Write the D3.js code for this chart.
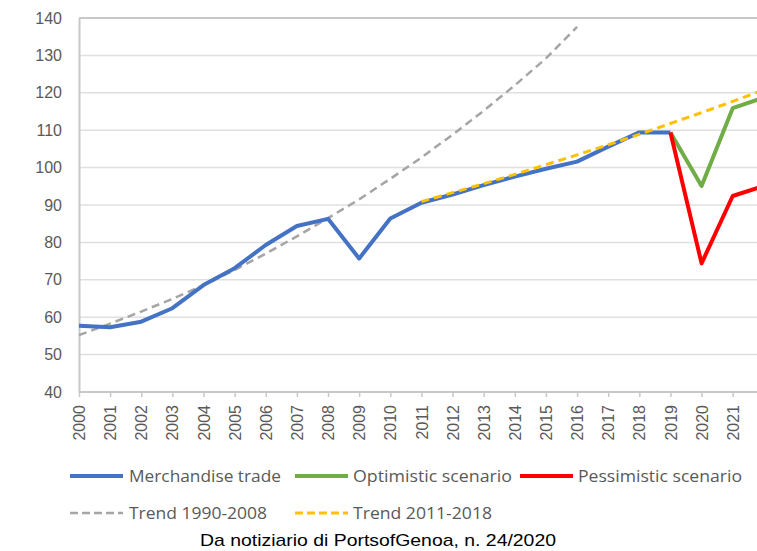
<!DOCTYPE html>
<html>
<head>
<meta charset="utf-8">
<script src="https://cdn.jsdelivr.net/npm/d3@7"></script>
<style>
  html, body { margin: 0; padding: 0; background: #fff; }
  svg { display: block; }
</style>
</head>
<body>
<svg id="chart" width="757" height="551"></svg>
<script>
// ---- Data ----
const merchYears = [2000,2001,2002,2003,2004,2005,2006,2007,2008,2009,2010,2011,2012,2013,2014,2015,2016,2017,2018,2019];
const merchandise = [57.7,57.3,58.8,62.4,68.6,73.1,79.3,84.4,86.3,75.7,86.4,90.6,92.8,95.3,97.6,99.7,101.6,105.6,109.4,109.4];
const scenarioYears = [2019,2020,2021,2022];
const optimistic = [109.4,95.1,115.9,118.7];
const pessimistic = [109.4,74.4,92.4,95.1];
const trend1Years = [2000,2001,2002,2003,2004,2005,2006,2007,2008,2009,2010,2011,2012,2013,2014,2015,2016];
const trend1990 = [55.2,58.3,61.5,64.9,68.6,72.6,77.0,81.6,86.5,91.5,97.0,102.7,108.8,115.2,122.0,129.2,137.6];
const trend2Years = [2011,2012,2013,2014,2015,2016,2017,2018,2019,2020,2021,2022];
const trend2011 = [90.9,93.3,95.7,98.2,100.8,103.4,106.1,108.9,111.8,114.7,117.7,120.8];
const yTicks = [40,50,60,70,80,90,100,110,120,130,140];
const xTickYears = d3.range(2000, 2022);
const legendRow1 = ["Merchandise trade", "Optimistic scenario", "Pessimistic scenario"];
const legendRow2 = ["Trend 1990-2008", "Trend 2011-2018"];
const caption = "Da notiziario di PortsofGenoa, n. 24/2020";

// ---- Layout ----
const svg = d3.select("#chart");
const x = d3.scaleLinear().domain([2000, 2021]).range([79, 732.7]);
const y = d3.scaleLinear().domain([40, 140]).range([392, 18]);
const textColor = "#595959";

// gridlines
svg.append("g").selectAll("line").data(yTicks.filter(v => v > 40)).join("line")
  .attr("x1", x(2000)).attr("x2", 757)
  .attr("y1", d => y(d)).attr("y2", d => y(d))
  .attr("stroke", d => d === 140 ? "#c8c8c8" : "#e0e0e0")
  .attr("stroke-width", d => d === 140 ? 2 : 1.5);

// y axis labels
const yAxis = d3.axisLeft(y).tickValues(yTicks).tickSize(0).tickPadding(17);
const yg = svg.append("g").attr("transform", `translate(${x(2000)},0)`).call(yAxis);
yg.select(".domain").attr("stroke", "#c8c8c8").attr("stroke-width", 2);
yg.selectAll("text").attr("fill", textColor).style("font-family", "Liberation Sans, Arial, sans-serif").style("font-size", "16px");

// x axis
const xAxis = d3.axisBottom(x).tickValues(xTickYears).tickFormat(d3.format("d")).tickSize(5).tickPadding(0);
const xg = svg.append("g").attr("transform", `translate(0,${y(40)})`).call(xAxis);
xg.select(".domain").attr("d", `M${x(2000)},0H757`).attr("stroke", "#c8c8c8").attr("stroke-width", 2);
xg.selectAll(".tick line").attr("stroke", "#c8c8c8").attr("stroke-width", 1.5);
xg.selectAll("text")
  .attr("fill", textColor)
  .style("font-family", "Liberation Sans, Arial, sans-serif").style("font-size", "16px")
  .attr("transform", "rotate(-90)")
  .attr("text-anchor", "end")
  .attr("x", -13).attr("y", 0).attr("dy", "0.35em");

// lines
const line = d3.line().x(d => x(d[0])).y(d => y(d[1]));
const zip = (a, b) => a.map((v, i) => [v, b[i]]);

const plot = svg.append("g");
plot.append("path").datum(zip(trend1Years, trend1990)).attr("d", line)
  .attr("fill", "none").attr("stroke", "#a5a5a5").attr("stroke-width", 2.5)
  .attr("stroke-dasharray", "8,5");
plot.append("path").datum(zip(merchYears, merchandise)).attr("d", line)
  .attr("fill", "none").attr("stroke", "#4472c4").attr("stroke-width", 4).attr("stroke-linejoin", "round");
plot.append("path").datum(zip(scenarioYears, optimistic)).attr("d", line)
  .attr("fill", "none").attr("stroke", "#70ad47").attr("stroke-width", 4).attr("stroke-linejoin", "round");
plot.append("path").datum(zip(scenarioYears, pessimistic)).attr("d", line)
  .attr("fill", "none").attr("stroke", "#ff0000").attr("stroke-width", 4).attr("stroke-linejoin", "round");
plot.append("path").datum(zip(trend2Years, trend2011)).attr("d", line)
  .attr("fill", "none").attr("stroke", "#ffc000").attr("stroke-width", 3)
  .attr("stroke-dasharray", "8,5");

// legend
const legendFont = "Open Sans, Liberation Sans, sans-serif";
const leg1 = [
  {label: legendRow1[0], color: "#4472c4", x1: 70, x2: 123, tx: 129, tw: 152, dash: null, w: 4},
  {label: legendRow1[1], color: "#70ad47", x1: 295, x2: 348, tx: 353, tw: 159, dash: null, w: 4},
  {label: legendRow1[2], color: "#ff0000", x1: 520, x2: 573, tx: 578, tw: 164, dash: null, w: 4}
];
const leg2 = [
  {label: legendRow2[0], color: "#a5a5a5", x1: 70, x2: 123, tx: 129, tw: 138, dash: "8,4", w: 2.5},
  {label: legendRow2[1], color: "#ffc000", x1: 295, x2: 348, tx: 353, tw: 139, dash: "8,4", w: 3}
];
function drawLegend(items, cy) {
  const g = svg.append("g");
  items.forEach(it => {
    g.append("line").attr("x1", it.x1).attr("x2", it.x2).attr("y1", cy).attr("y2", cy)
      .attr("stroke", it.color).attr("stroke-width", it.w)
      .attr("stroke-dasharray", it.dash);
    g.append("text").attr("x", it.tx).attr("y", cy).attr("dy", "0.35em")
      .attr("fill", textColor)
      .style("font-family", legendFont).style("font-size", "16px")
      .attr("textLength", it.tw).attr("lengthAdjust", "spacingAndGlyphs")
      .text(it.label);
  });
}
drawLegend(leg1, 476);
drawLegend(leg2, 513);

// caption
svg.append("text").attr("x", 200).attr("y", 546)
  .attr("fill", "#000")
  .style("font-family", "Liberation Sans, Arial, sans-serif").style("font-size", "17px")
  .attr("textLength", 356).attr("lengthAdjust", "spacingAndGlyphs")
  .text(caption);
</script>
</body>
</html>
